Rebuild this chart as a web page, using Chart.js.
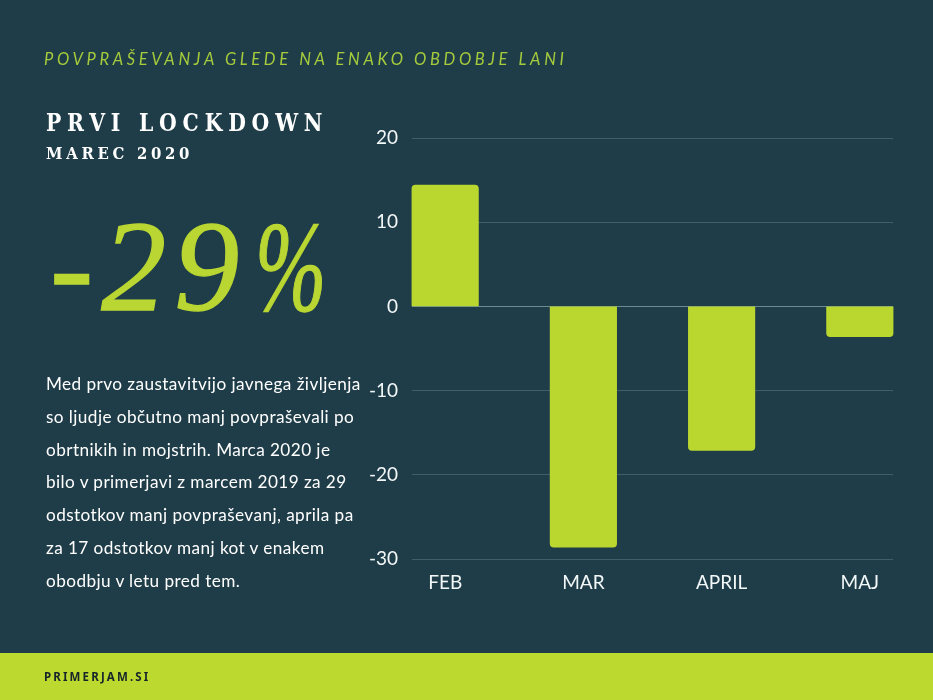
<!DOCTYPE html>
<html lang="sl">
<head>
<meta charset="utf-8">
<script src="https://cdn.jsdelivr.net/npm/chart.js@4"></script>
<style>
html,body{margin:0;padding:0;background:#1f3d48;overflow:hidden}
#page{position:relative;width:933px;height:700px;background:#1f3d48;overflow:hidden}
canvas{position:absolute;left:0;top:0}
.t{position:absolute;white-space:nowrap;margin:0}
#sub{left:44px;top:49px;font:italic 400 16.5px/20px Lato;letter-spacing:3.64px;color:#a5cb3c}
#h1{left:46px;top:108px;font:700 24px/30px "DejaVu Serif";letter-spacing:6.8px;color:#fff;transform:scaleX(.85);transform-origin:left top}
#h2{left:46px;top:143px;font:700 17.5px/20px "DejaVu Serif";letter-spacing:4.35px;color:#fff;transform:scaleX(.85);transform-origin:left top}
#big{left:50px;top:191px;font:italic 400 130px/150px "Liberation Serif";letter-spacing:8px;color:#b9d632;-webkit-text-stroke:1.3px #b9d632}
#big span{display:inline-block;margin-left:8px;transform:scaleX(.66);transform-origin:left center}
#body{left:46px;top:368px;font:400 17.2px/32.8px Lato;color:#fff;letter-spacing:.42px}
#body div{white-space:nowrap}
#foot{position:absolute;left:0;top:653px;width:933px;height:47px;background:#bcd92f}
#brand{left:44px;top:669px;font:700 11.5px/15px "Noto Sans";letter-spacing:2.15px;color:#16252a}
</style>
</head>
<body>
<div id="page">
<div id="foot"></div>
<canvas id="c" width="933" height="700"></canvas>
<p class="t" id="sub"></p>
<p class="t" id="h1"></p>
<p class="t" id="h2"></p>
<p class="t" id="big"></p>
<div class="t" id="body"></div>
<p class="t" id="brand"></p>
</div>
<script>
const categories = ["FEB", "MAR", "APRIL", "MAJ"];
const values = [14.4, -28.6, -17.1, -3.6];
const yTicks = [20, 10, 0, -10, -20, -30];
const subtitle = "POVPRAŠEVANJA GLEDE NA ENAKO OBDOBJE LANI";
const heading = "PRVI LOCKDOWN";
const subheading = "MAREC 2020";
const bigNumber = "-29";
const bigUnit = "%";
const bodyLines = [
  "Med prvo zaustavitvijo javnega življenja",
  "so ljudje občutno manj povpraševali po",
  "obrtnikih in mojstrih. Marca 2020 je",
  "bilo v primerjavi z marcem 2019 za 29",
  "odstotkov manj povpraševanj, aprila pa",
  "za 17 odstotkov manj kot v enakem",
  "obodbju v letu pred tem."
];
const brand = "PRIMERJAM.SI";

document.getElementById("sub").textContent = subtitle;
document.getElementById("h1").textContent = heading;
document.getElementById("h2").textContent = subheading;
document.getElementById("big").innerHTML = bigNumber + "<span>" + bigUnit + "</span>";
document.getElementById("brand").textContent = brand;
document.getElementById("body").innerHTML = bodyLines.map(l => "<div>" + l + "</div>").join("");

new Chart(document.getElementById("c"), {
  type: "bar",
  data: {
    datasets: [{
      data: values.map((v, i) => ({ x: i, y: v })),
      backgroundColor: "#b9d72f",
      borderWidth: 0,
      borderRadius: 4,
      borderSkipped: "start",
      barThickness: 66.5,
      clip: false
    }]
  },
  options: {
    responsive: false,
    animation: false,
    events: [],
    layout: { padding: { left: 360, top: 138, right: 40, bottom: 100 } },
    plugins: { legend: { display: false }, tooltip: { enabled: false } },
    scales: {
      x: {
        type: "linear",
        offset: false,
        min: -0.24,
        max: 3.24,
        afterBuildTicks: s => { s.ticks = categories.map((_, i) => ({ value: i })); },
        afterFit: s => { s.height = 41; },
        grid: { display: false, offset: false },
        border: { display: false },
        ticks: {
          autoSkip: false,
          maxRotation: 0,
          padding: 4,
          color: "#f2f7f7",
          font: { family: "Lato", size: 19 },
          callback: v => categories[v]
        }
      },
      y: {
        min: -30,
        max: 20,
        afterBuildTicks: s => { s.ticks = yTicks.map(v => ({ value: v })); },
        afterFit: s => { s.width = 52; },
        grid: {
          drawTicks: false,
          lineWidth: 1,
          color: c => c.tick.value === 0 ? "#6b8c92" : "#3f5f68"
        },
        border: { display: false },
        ticks: {
          padding: 14,
          color: "#f2f7f7",
          font: { family: "Lato", size: 19 }
        }
      }
    }
  }
});
</script>
</body>
</html>
